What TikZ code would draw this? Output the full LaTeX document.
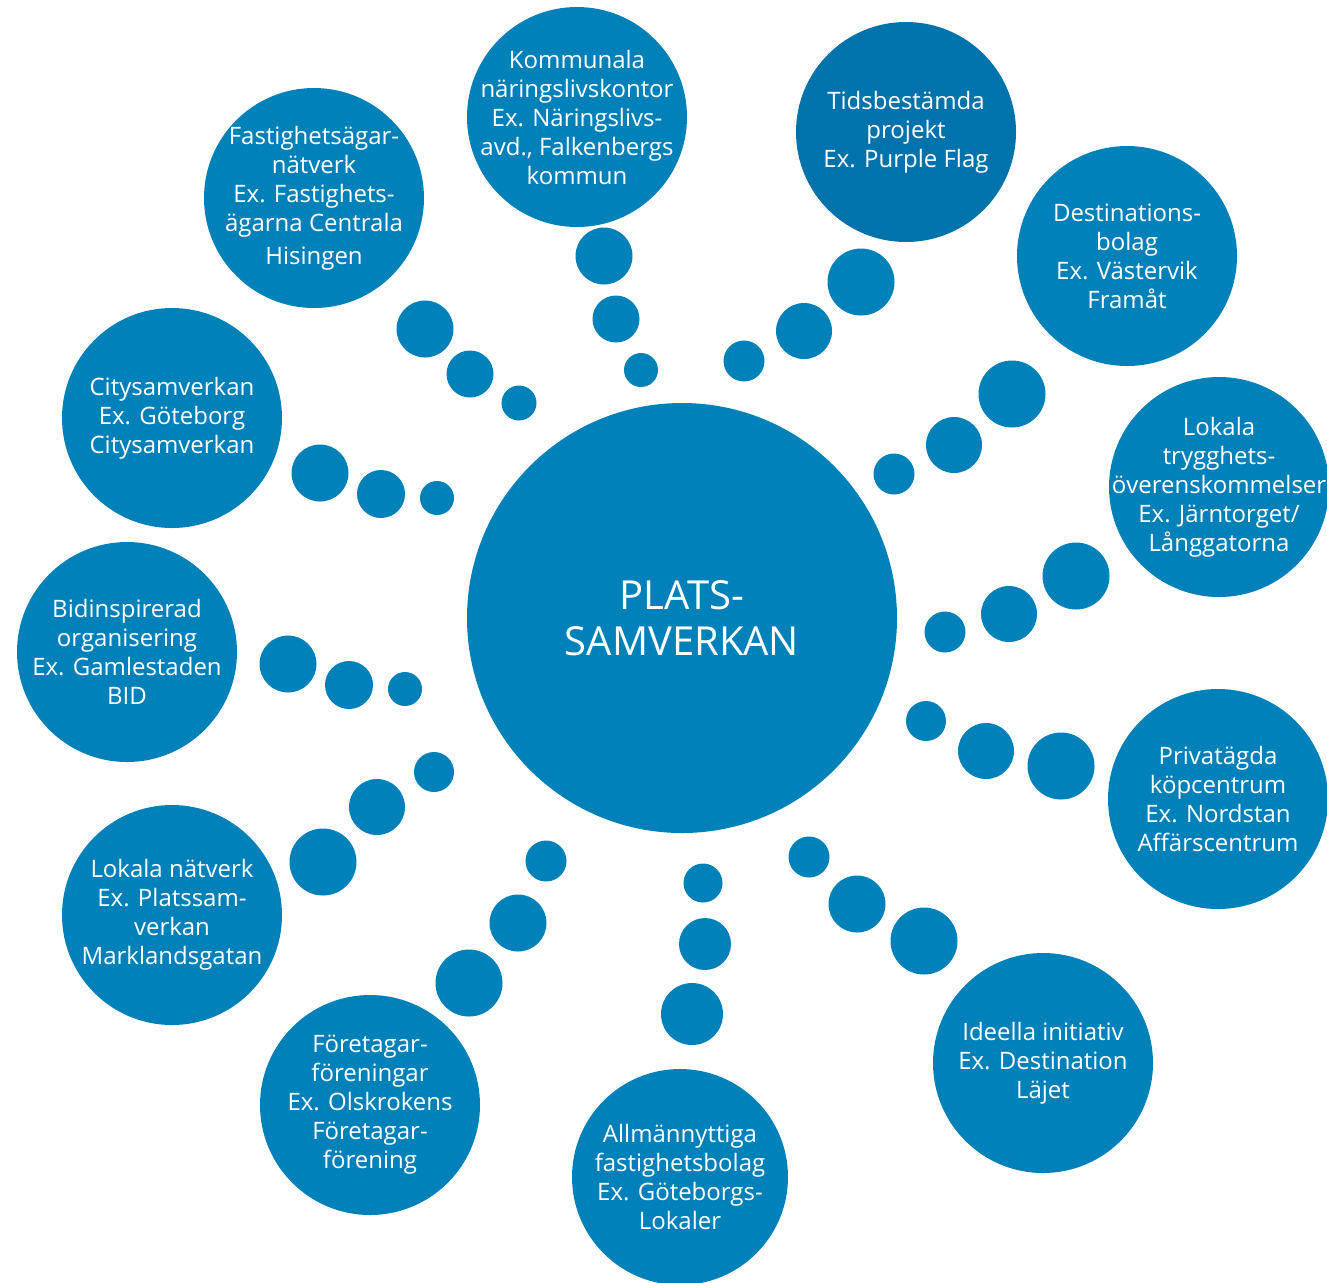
\documentclass[tikz,border=0pt]{standalone}
\usepackage{fontspec}
\setmainfont{Open Sans}
\definecolor{psblue}{RGB}{0,129,185}
\definecolor{psdark}{RGB}{0,115,173}

\tikzset{
  btext/.style={text=white, align=center, inner sep=0pt, font=\fontsize{12}{14.5}\selectfont},
  bubble/.style={circle, fill=psblue, inner sep=0pt, minimum size=110pt,
    label={[btext]center:#1}},
  hub/.style={circle, fill=psblue, text=white, inner sep=0pt, minimum size=215pt,
    align=center, font=\fontsize{20}{23}\selectfont},
  dot/.style={circle, fill=psblue, inner sep=0pt}
}

\begin{document}
\begin{tikzpicture}[x=0.5pt, y=-0.5pt]

\useasboundingbox (0,0) rectangle (1327,1282);

\node [hub] (hub) at (682,618) {PLATS-\\SAMVERKAN};

% outer ring, clockwise from the top
\node [bubble={Kommunala\\näringslivskontor\\Ex. Näringslivs-\\avd., Falkenbergs\\kommun}] (kommun) at (577,117) {};
\node [bubble={Tidsbestämda\\projekt\\Ex. Purple Flag}, fill=psdark] (projekt) at (906,132) {};
\node [bubble={Destinations-\\bolag\\Ex. Västervik\\Framåt}] (destbolag) at (1127,256) {};
\node [bubble={Lokala\\trygghets-\\överenskommelser\\Ex. Järntorget/\\Långgatorna}] (trygg) at (1219,487) {};
\node [bubble={Privatägda\\köpcentrum\\Ex. Nordstan\\Affärscentrum}] (kopcentrum) at (1218,799) {};
\node [bubble={Ideella initiativ\\Ex. Destination\\Läjet}] (ideella) at (1043,1063) {};
\node [bubble={Allmännyttiga\\fastighetsbolag\\Ex. Göteborgs-\\Lokaler}, minimum size=108pt] (allmann) at (680,1177) {};
\node [bubble={Företagar-\\föreningar\\Ex. Olskrokens\\Företagar-\\förening}] (foretagar) at (370,1105) {};
\node [bubble={Lokala nätverk\\Ex. Platssam-\\verkan\\Marklandsgatan}] (lokalnat) at (172,915) {};
\node [bubble={Bidinspirerad\\organisering\\Ex. Gamlestaden\\BID}] (bid) at (127,652) {};
\node [bubble={Citysamverkan\\Ex. Göteborg\\Citysamverkan}] (city) at (172,418) {};
\node [bubble={Fastighetsägar-\\nätverk\\Ex. Fastighets-\\ägarna Centrala\\[2pt]Hisingen}] (fastighet) at (314,198) {};

% dots between hub and ring: x / y / diameter
\foreach \x/\y/\d [count=\i] in {
  604/256/57, 616/319/47, 641/370/34,
  861/282/67, 804/331/56, 744/361/41,
  1012/394/67, 954/445/56, 894/474/41,
  1076/576/67, 1009/614/56, 945/632/41,
  1061/766/67, 986/751/56, 926/721/40,
  924/941/67, 857/904/57, 809/857/41,
  692/1014/62, 705/944/52, 703/883/39,
  469/983/67, 518/923/57, 546/861/41,
  323/862/67, 377/807/56, 434/772/40,
  288/664/57, 349/685/48, 405/689/34,
  320/473/57, 381/494/48, 437/498/34,
  425/329/57, 470/374/47, 519/403/35}
  \node [dot, minimum size=\d*0.5pt] (dot\i) at (\x,\y) {};

\end{tikzpicture}
\end{document}
